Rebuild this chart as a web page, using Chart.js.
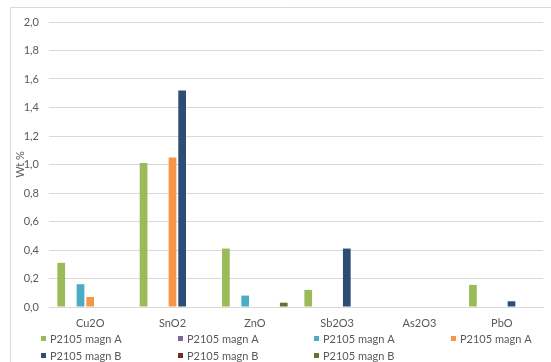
<!DOCTYPE html>
<html>
<head>
<meta charset="utf-8">
<script src="https://cdn.jsdelivr.net/npm/chart.js@4"></script>
<style>
  html, body { margin: 0; padding: 0; background: #ffffff; }
  #wrap { position: relative; width: 551px; height: 362px; }
</style>
</head>
<body>
<div id="wrap"><canvas id="chart" width="551" height="362"></canvas></div>
<script>
// Oxide contents (wt %) measured on sample P2105
const categories = ['Cu2O', 'SnO2', 'ZnO', 'Sb2O3', 'As2O3', 'PbO'];
const seriesNames = ['P2105 magn A', 'P2105 magn A', 'P2105 magn A', 'P2105 magn A',
                     'P2105 magn B', 'P2105 magn B', 'P2105 magn B'];
const seriesA1 = [0.31, 1.01, 0.41, 0.12, 0, 0.155];
const seriesA2 = [0, 0, 0, 0, 0, 0];
const seriesA3 = [0.16, 0, 0.08, 0, 0, 0];
const seriesA4 = [0.07, 1.05, 0, 0, 0, 0];
const seriesB1 = [0, 1.52, 0, 0.41, 0, 0.04];
const seriesB2 = [0, 0, 0, 0, 0, 0];
const seriesB3 = [0, 0, 0.03, 0, 0, 0];
const yTicks = [0, 0.2, 0.4, 0.6, 0.8, 1.0, 1.2, 1.4, 1.6, 1.8, 2.0];

const seriesValues = [seriesA1, seriesA2, seriesA3, seriesA4, seriesB1, seriesB2, seriesB3];
const palette = ['#9bbb59', '#8064a2', '#4bacc6', '#f79646', '#2c4d75', '#772c2a', '#5f7530'];

const FONT = 'Lato, "Open Sans", sans-serif';
const TEXT = '#595959';
const GRID = '#d9d9d9';

// Frame around the chart and a grid-style legend below the category axis
const framePlugin = {
  id: 'frame',
  beforeDraw(chart) {
    const ctx = chart.ctx;
    ctx.save();
    ctx.strokeStyle = GRID;
    ctx.lineWidth = 1;
    ctx.beginPath();
    ctx.moveTo(10.5, 362);
    ctx.lineTo(10.5, 7.5);
    ctx.lineTo(551, 7.5);
    ctx.stroke();
    ctx.restore();
  }
};

const gridLegend = {
  id: 'gridLegend',
  afterDraw(chart) {
    const ctx = chart.ctx;
    const cols = 4, x0 = 41, colW = 136.7, rowY = [339, 356], box = 5;
    ctx.save();
    ctx.font = '11px ' + FONT;
    ctx.textBaseline = 'middle';
    ctx.textAlign = 'left';
    chart.data.datasets.forEach((ds, i) => {
      const x = Math.round(x0 + (i % cols) * colW);
      const y = rowY[Math.floor(i / cols)];
      ctx.fillStyle = ds.backgroundColor;
      ctx.fillRect(x, y - 3, box, box);
      ctx.fillStyle = TEXT;
      ctx.fillText(ds.label, x + box + 4, y);
    });
    ctx.restore();
  }
};

new Chart(document.getElementById('chart'), {
  type: 'bar',
  data: {
    labels: categories,
    datasets: seriesValues.map((vals, i) => ({
      label: seriesNames[i],
      data: vals,
      backgroundColor: palette[i],
      borderWidth: 0,
      categoryPercentage: 0.82,
      barPercentage: 0.8
    }))
  },
  options: {
    responsive: false,
    animation: false,
    devicePixelRatio: 1,
    layout: { padding: { left: 10, right: 8, top: 22, bottom: 0 } },
    plugins: {
      legend: { display: false },
      tooltip: { enabled: false }
    },
    scales: {
      x: {
        grid: { display: false, drawTicks: false },
        border: { color: GRID, width: 1 },
        ticks: { color: TEXT, font: { family: FONT, size: 11 }, padding: 10, maxRotation: 0 },
        afterFit(s) { s.height = 55; }
      },
      y: {
        min: 0,
        max: 2,
        afterBuildTicks(s) { s.ticks = yTicks.map(v => ({ value: v })); },
        grid: { color: GRID, drawTicks: false },
        border: { display: false },
        ticks: {
          color: TEXT,
          font: { family: FONT, size: 11 },
          padding: 10,
          callback: v => v.toFixed(1).replace('.', ',')
        },
        title: {
          display: true,
          text: 'Wt %',
          color: TEXT,
          font: { family: FONT, size: 11 },
          padding: { top: 4, bottom: 0 }
        },
        afterFit(s) { s.width = 39; }
      }
    }
  },
  plugins: [framePlugin, gridLegend]
});
</script>
</body>
</html>
